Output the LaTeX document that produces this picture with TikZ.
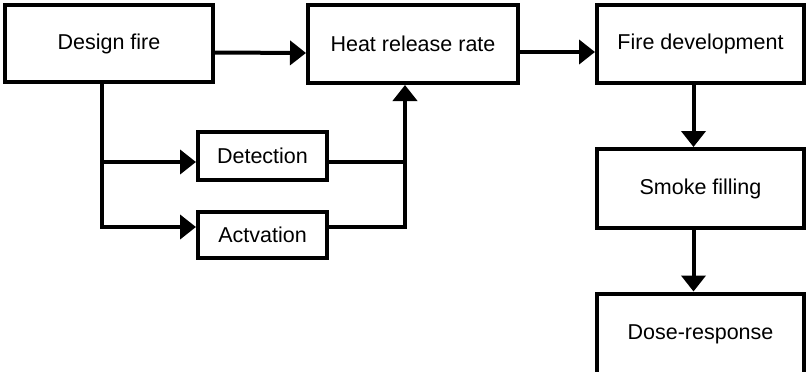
\documentclass[tikz,border=0pt]{standalone}
\usepackage{fontspec}
\setmainfont{Liberation Sans}
\usetikzlibrary{arrows.meta}

\begin{document}
\begin{tikzpicture}
			[x=1pt,y=-1pt,
			%Styles
			box/.style={draw,line width=4pt,inner sep=0pt,
				font=\fontsize{21.5}{25}\selectfont},
			arr/.style={line width=4pt,-{Triangle[length=16pt,width=24pt]}},
			link/.style={line width=4pt}
			]
			
			\useasboundingbox (0,0) rectangle (806,372);
			
			%The graphic
			
			\node[box,minimum width=208pt,minimum height=77pt] (design) at (109,43.5) {Design fire};
			\node[box,minimum width=210pt,minimum height=78pt] (hrr) at (413,44) {Heat release rate};
			\node[box,minimum width=207pt,minimum height=78pt] (firedev) at (700.5,44) {Fire development};
			\node[box,minimum width=129pt,minimum height=48pt] (detect) at (262.5,156) {Detection};
			\node[box,minimum width=129pt,minimum height=46.5pt] (activ) at (262.5,235) {Actvation};
			\node[box,minimum width=207pt,minimum height=79pt] (smoke) at (700.5,188.5) {Smoke filling};
			\node[box,minimum width=207pt,minimum height=82.5pt] (dose) at (700.5,334.75) {Dose-response};
			
			\coordinate (trunk) at ([xshift=-7pt]design.south);
			\coordinate (dtin) at ([yshift=-6pt]detect.west);
			\coordinate (dtout) at ([yshift=-6pt]detect.east);
			\coordinate (hrrin) at ([xshift=-8pt]hrr.south);
			
			\draw[arr] ([yshift=-9pt]design.east) -- ([yshift=-9pt]hrr.west);
			\draw[arr] ([yshift=-8pt]hrr.east) -- ([yshift=-8pt]firedev.west);
			
			\draw[arr] (trunk) |- ([yshift=8pt]activ.west);
			\draw[arr] (trunk |- dtin) -- (dtin);
			
			\draw[arr] ([yshift=8pt]activ.east) -| (hrrin);
			\draw[link] (dtout) -- (dtout -| hrrin);
			
			\draw[arr] ([xshift=-7pt]firedev.south) -- ([xshift=-7pt]smoke.north);
			\draw[arr] ([xshift=-7pt]smoke.south) -- ([xshift=-7pt]dose.north);
		\end{tikzpicture}
\end{document}
